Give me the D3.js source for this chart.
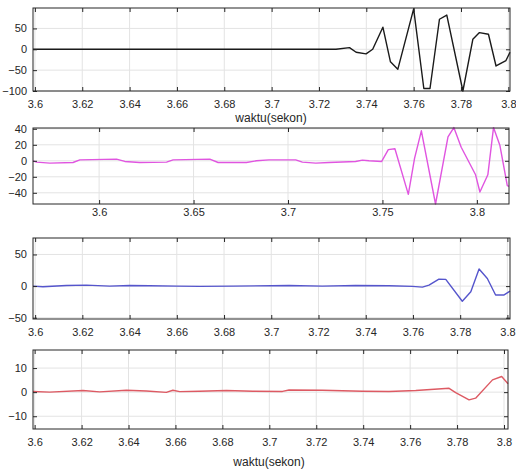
<!DOCTYPE html>
<html>
<head>
<meta charset="utf-8">
<script src="https://cdn.jsdelivr.net/npm/d3@7"></script>
<style>
  body { margin: 0; background: #fff; }
  text { font-family: "Liberation Sans", Arial, sans-serif; }
</style>
</head>
<body>
<svg id="chart" width="516" height="470"></svg>
<script>

// panel 1 (black)
var t1 = [3.5992, 3.62, 3.66, 3.70, 3.7272, 3.7329, 3.7357, 3.7399, 3.7427, 3.747, 3.7502, 3.7533, 3.760, 3.7643, 3.7669, 3.7709, 3.774, 3.7808, 3.785, 3.7878, 3.7916, 3.7948, 3.799, 3.8007];
var v1 = [0, 0, 0, 0, 0, 4, -7, -11, 0, 53, -30, -48, 97, -94, -94, 72, 82, -100, 24, 40, 36, -40, -27, -7];

// panel 2 (magenta)
var t2 = [3.565, 3.5669, 3.5739, 3.5862, 3.5898, 3.6092, 3.6136, 3.6215, 3.6357, 3.6392, 3.6586, 3.663, 3.678, 3.6833, 3.69, 3.7041, 3.7076, 3.7147, 3.7217, 3.7358, 3.7394, 3.7429, 3.7496, 3.7531, 3.7566, 3.7637, 3.767, 3.7706, 3.7781, 3.7847, 3.7878, 3.7917, 3.7993, 3.8016, 3.8058, 3.8088, 3.8122, 3.8161, 3.817];
var v2 = [0, -1.7, -2.9, -2.1, 1.2, 2.1, -0.8, -2.1, -1.7, 1.2, 2.1, -2.1, -2.1, 0, 1.2, 1.2, -1.7, -2.9, -2.1, -0.8, 0.8, 0, -0.8, 14, 15, -42, 3, 37.5, -54, 30, 41.5, 17, -17.5, -39, -17.5, 41.5, 19, -31, -32];

// panel 3 (blue)
var t3 = [3.5991, 3.6033, 3.6132, 3.6217, 3.6316, 3.64, 3.6485, 3.6598, 3.6697, 3.6838, 3.7075, 3.7216, 3.7357, 3.7499, 3.7598, 3.764, 3.7668, 3.771, 3.7739, 3.7809, 3.7845, 3.788, 3.7915, 3.795, 3.7986, 3.8011];
var v3 = [0, -1, 1, 1.6, 0, 1, 0.5, 0, -0.5, 0, 1, 0, 1, 0.5, -0.5, -1.6, 1.6, 11, 10.6, -24, -9, 27, 12, -14, -14, -8];

// panel 4 (red)
var t4 = [3.5993, 3.6064, 3.6206, 3.6277, 3.6391, 3.6476, 3.6561, 3.6589, 3.6618, 3.6703, 3.6817, 3.693, 3.7056, 3.7084, 3.7226, 3.7397, 3.751, 3.7624, 3.7766, 3.7794, 3.7851, 3.7879, 3.7951, 3.799, 3.8017];
var v4 = [0.3, 0, 0.7, 0.1, 0.8, 0.5, -0.1, 0.8, 0.2, 0.4, 0.7, 0.4, 0.3, 0.9, 0.8, 0.4, 0.3, 0.7, 1.6, -0.2, -3.2, -2.5, 5.1, 6.5, 3.5];

// ticks
var xTicksA = [3.6, 3.62, 3.64, 3.66, 3.68, 3.7, 3.72, 3.74, 3.76, 3.78, 3.8];
var xTicksB = [3.6, 3.65, 3.7, 3.75, 3.8];
var yTicks1 = [-100, -50, 0, 50];
var yTicks2 = [-40, -20, 0, 20, 40];
var yTicks3 = [-50, 0, 50];
var yTicks4 = [-10, 0, 10];

var xLabel = "waktu(sekon)";

var svg = d3.select("#chart");

var panels = [
  {t: t1, v: v1, color: "#1a1a1a", left: 33, top: 8, right: 510, bottom: 91,
   xd: [3.5992, 3.8007], yd: [-100, 99], xt: xTicksA, yt: yTicks1, pad: 9},
  {t: t2, v: v2, color: "#e055e0", left: 33, top: 128, right: 509, bottom: 204,
   xd: [3.565, 3.817], yd: [-54, 41], xt: xTicksB, yt: yTicks2, pad: 4.5},
  {t: t3, v: v3, color: "#5555cc", left: 33, top: 238, right: 510, bottom: 319,
   xd: [3.5991, 3.8011], yd: [-52, 76], xt: xTicksA, yt: yTicks3, pad: 9.5},
  {t: t4, v: v4, color: "#dd5a63", left: 33, top: 350, right: 508, bottom: 429,
   xd: [3.5993, 3.8017], yd: [-15.3, 17.5], xt: xTicksA, yt: yTicks4, pad: 9.5}
];

var fmt = function(d) { return String(+d.toFixed(2)); };

panels.forEach(function(p) {
  var w = p.right - p.left, h = p.bottom - p.top;
  var x = d3.scaleLinear().domain(p.xd).range([0, w]);
  var y = d3.scaleLinear().domain(p.yd).range([h, 0]);

  var g = svg.append("g").attr("transform", "translate(" + p.left + "," + p.top + ")");

  // grid
  g.append("g").selectAll("line").data(p.xt).enter().append("line")
    .attr("x1", function(d) { return x(d); }).attr("x2", function(d) { return x(d); })
    .attr("y1", 0).attr("y2", h)
    .attr("stroke", "#e3e3e3").attr("stroke-width", 1);
  g.append("g").selectAll("line").data(p.yt).enter().append("line")
    .attr("y1", function(d) { return y(d); }).attr("y2", function(d) { return y(d); })
    .attr("x1", 0).attr("x2", w)
    .attr("stroke", "#e3e3e3").attr("stroke-width", 1);

  // data line
  var pts = p.t.map(function(d, i) { return [d, p.v[i]]; });
  g.append("path")
    .datum(pts)
    .attr("fill", "none")
    .attr("stroke", p.color)
    .attr("stroke-width", 1.4)
    .attr("stroke-linejoin", "round")
    .attr("d", d3.line().x(function(d) { return x(d[0]); }).y(function(d) { return y(d[1]); }));

  // axes, ticks inward
  var xb = g.append("g").attr("transform", "translate(0," + h + ")")
    .call(d3.axisBottom(x).tickValues(p.xt).tickFormat(fmt).tickSizeInner(-4).tickSizeOuter(0).tickPadding(p.pad));
  var xtp = g.append("g")
    .call(d3.axisTop(x).tickValues(p.xt).tickFormat("").tickSizeInner(-4).tickSizeOuter(0));
  var yl = g.append("g")
    .call(d3.axisLeft(y).tickValues(p.yt).tickSizeInner(-4).tickSizeOuter(0).tickPadding(6));
  var yr = g.append("g").attr("transform", "translate(" + w + ",0)")
    .call(d3.axisRight(y).tickValues(p.yt).tickFormat("").tickSizeInner(-4).tickSizeOuter(0));

  [xb, xtp, yl, yr].forEach(function(a) {
    a.select(".domain").remove();
    a.selectAll(".tick line").attr("stroke", "#262626");
    a.selectAll("text").attr("fill", "#262626").style("font-size", "11px");
  });

  g.append("rect")
    .attr("width", w).attr("height", h)
    .attr("fill", "none").attr("stroke", "#262626").attr("stroke-width", 1);
});

// x labels
svg.append("text").attr("x", 271).attr("y", 118).attr("dy", "0.35em")
  .attr("text-anchor", "middle").attr("fill", "#262626").style("font-size", "12px")
  .text(xLabel);
svg.append("text").attr("x", 269).attr("y", 462).attr("dy", "0.35em")
  .attr("text-anchor", "middle").attr("fill", "#262626").style("font-size", "12px")
  .text(xLabel);
</script>
</body>
</html>
